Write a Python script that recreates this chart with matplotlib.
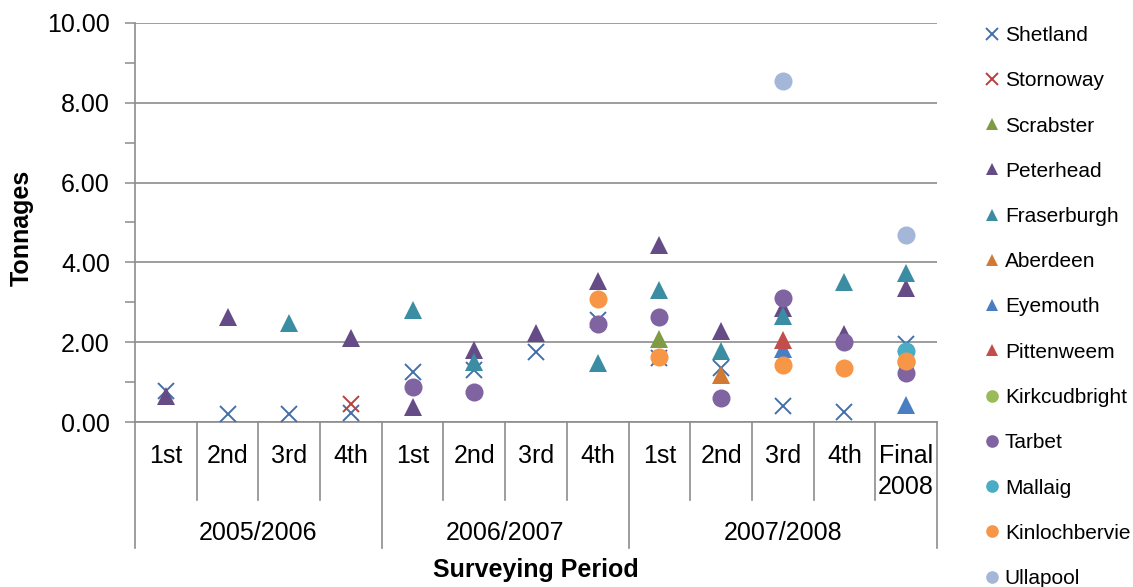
import numpy as np
import matplotlib
matplotlib.use("Agg")
import matplotlib.pyplot as plt

plt.rcParams['font.family'] = ['Liberation Sans', 'DejaVu Sans']

nan = np.nan

# Surveying periods (two-level category axis)
periods = ["1st", "2nd", "3rd", "4th",
           "1st", "2nd", "3rd", "4th",
           "1st", "2nd", "3rd", "4th", "Final\n2008"]
years = ["2005/2006", "2006/2007", "2007/2008"]
year_spans = [(0, 4), (4, 8), (8, 13)]

# Tonnages per port
shetland      = [0.78, 0.20, 0.20, 0.23, 1.25, 1.30, 1.76, 2.55, 1.60, 1.35, 0.40, 0.25, 1.95]
stornoway     = [nan, nan, nan, 0.45, nan, nan, nan, nan, nan, nan, nan, nan, nan]
scrabster     = [nan, nan, nan, nan, nan, nan, nan, nan, 2.08, nan, nan, nan, nan]
peterhead     = [0.65, 2.63, nan, 2.10, 0.38, 1.80, 2.22, 3.54, 4.43, 2.28, 2.85, 2.20, 3.35]
fraserburgh   = [nan, nan, 2.48, nan, 2.80, 1.50, nan, 1.48, 3.30, 1.78, 2.65, 3.50, 3.73]
aberdeen      = [nan, nan, nan, nan, nan, nan, nan, nan, nan, 1.18, nan, nan, nan]
eyemouth      = [nan, nan, nan, nan, nan, nan, nan, nan, nan, nan, 1.82, nan, 0.43]
pittenweem    = [nan, nan, nan, nan, nan, nan, nan, nan, nan, nan, 2.05, nan, nan]
kirkcudbright = [nan, nan, nan, nan, nan, nan, nan, nan, nan, nan, nan, nan, 1.50]
tarbet        = [nan, nan, nan, nan, 0.88, 0.75, nan, 2.45, 2.64, 0.60, 3.10, 2.00, 1.23]
mallaig       = [nan, nan, nan, nan, nan, nan, nan, nan, nan, nan, nan, nan, 1.78]
kinlochbervie = [nan, nan, nan, nan, nan, nan, nan, 3.08, 1.64, nan, 1.43, 1.35, 1.53]
ullapool      = [nan, nan, nan, nan, nan, nan, nan, nan, nan, nan, 8.55, nan, 4.69]

series = [
    ("Shetland", shetland, "x", "#4470AA"),
    ("Stornoway", stornoway, "x", "#B8413E"),
    ("Scrabster", scrabster, "^", "#7F9C45"),
    ("Peterhead", peterhead, "^", "#654C86"),
    ("Fraserburgh", fraserburgh, "^", "#3A8DA3"),
    ("Aberdeen", aberdeen, "^", "#D27A33"),
    ("Eyemouth", eyemouth, "^", "#4A7EC2"),
    ("Pittenweem", pittenweem, "^", "#C24D4A"),
    ("Kirkcudbright", kirkcudbright, "o", "#9BBB59"),
    ("Tarbet", tarbet, "o", "#8064A2"),
    ("Mallaig", mallaig, "o", "#4BACC6"),
    ("Kinlochbervie", kinlochbervie, "o", "#F79646"),
    ("Ullapool", ullapool, "o", "#A5B7D8"),
]

W, H = 1133, 587
fig = plt.figure(figsize=(W / 100, H / 100), dpi=100)
ax_l, ax_r, ax_t, ax_b = 135, 937, 23, 422
ax = fig.add_axes([ax_l / W, 1 - ax_b / H, (ax_r - ax_l) / W, (ax_b - ax_t) / H])

grid_c = "#8C8C8C"
x = np.arange(len(periods)) + 0.5
for name, vals, mk, col in series:
    if mk == "x":
        ax.plot(x, vals, linestyle="none", marker="x", ms=12, mew=1.4,
                color=col, label=name, zorder=3)
    else:
        ax.plot(x, vals, linestyle="none", marker=mk, ms=13, mew=0,
                color=col, label=name, zorder=3)

ax.set_xlim(0, len(periods))
ax.set_ylim(0, 10)
ax.set_yticks(np.arange(0, 10.1, 2))
ax.set_yticks(np.arange(1, 10, 2), minor=True)
ax.set_yticklabels([f"{v:.2f}" for v in np.arange(0, 10.1, 2)], fontsize=18)
ax.tick_params(axis="y", which="both", length=7, width=1.1, color=grid_c, pad=11)
ax.set_xticks([])
ax.yaxis.grid(True, color=grid_c, linewidth=1.2, zorder=0)
ax.set_axisbelow(True)
for s in ["top", "right"]:
    ax.spines[s].set_visible(False)
ax.spines["left"].set_color(grid_c)
ax.spines["left"].set_linewidth(1.2)
ax.spines["bottom"].set_color(grid_c)
ax.spines["bottom"].set_linewidth(1.2)

# Category axis: dividers and labels below the plot
h_px = ax_b - ax_t
to_ax = lambda py: (ax_b - py) / h_px
tr = ax.get_xaxis_transform()
short_end = to_ax(500)
long_end = to_ax(548)
year_edges = {0, 4, 8, 13}
for b in range(len(periods) + 1):
    end = long_end if b in year_edges else short_end
    ax.plot([b, b], [0, end], color=grid_c, lw=1.2, transform=tr, clip_on=False)

for xi, lab in zip(x, periods):
    ax.text(xi, to_ax(444), lab, transform=tr, ha="center", va="top",
            fontsize=18, linespacing=1.35)
for (a, b), yl in zip(year_spans, years):
    ax.text((a + b) / 2, to_ax(533), yl, transform=tr, ha="center",
            va="center", fontsize=18)

fig.text(536 / W, 1 - 570 / H, "Surveying Period",
         ha="center", va="center", fontsize=18, fontweight="bold")
fig.text(22 / W, 1 - 228 / H, "Tonnages", rotation=90, ha="center",
         va="center", fontsize=18, fontweight="bold")

# Legend on the right
leg = ax.legend(loc="upper left", bbox_to_anchor=(985 / W, 1 - 26 / H),
                bbox_transform=fig.transFigure, frameon=False, fontsize=15,
                markerscale=0.7, handlelength=0.7, handletextpad=0.25,
                labelspacing=1.26, borderaxespad=0, borderpad=0)

fig.savefig("out.png", dpi=100)
